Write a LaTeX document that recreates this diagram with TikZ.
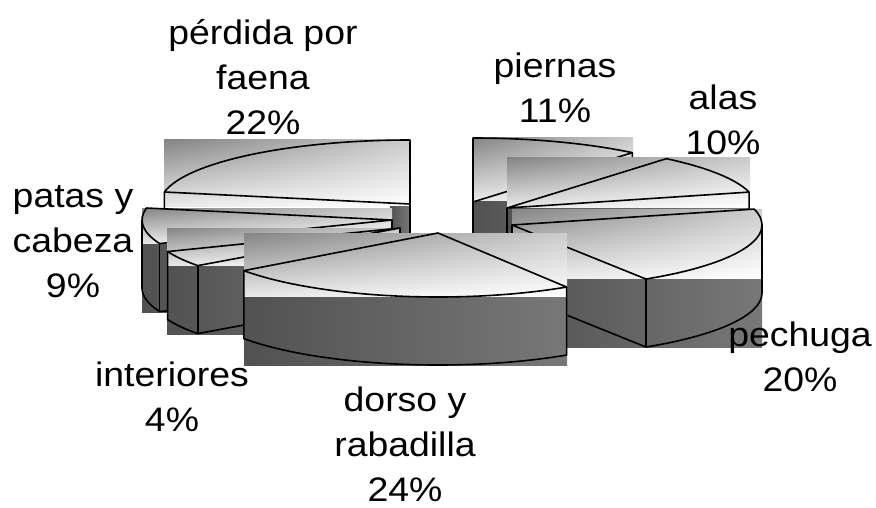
\documentclass[tikz,border=0pt]{standalone}
\usepackage{fontspec}
\setmainfont{Liberation Sans}
\newfontfamily\lblfont{Liberation Sans}[FakeStretch=1.1]
\usetikzlibrary{calc, shadings}

\tikzset{
    topface/.style={upper left=black!48, upper right=black!20, lower left=black!8, lower right=white},
    sideface/.style={left color=black!68, right color=black!53},
    rim/.style={black, line width=1.6pt, line join=round, x radius=250, y radius=64},
    lbl/.style={font=\lblfont\fontsize{34}{45}\selectfont, align=center, anchor=base},
}

\begin{document}
\begin{tikzpicture}[x=1pt, y=-1pt]
            \useasboundingbox (0,0) rectangle (876,508);
            % rim points of each slice: apex + (250 sin t, -64 cos t)
            \coordinate (PfA) at (410,204);
            \coordinate (PfL) at ($(PfA)+({250*sin(280.8)},{-64*cos(280.8)})$);
            \coordinate (PiA) at (473,202);
            \coordinate (PiT) at ($(PiA)+(0,-64)$);
            \coordinate (PiR) at ($(PiA)+({250*sin(39.6)},{-64*cos(39.6)})$);
            \coordinate (AlA) at (507,208);
            \coordinate (AlL) at ($(AlA)+({250*sin(39.6)},{-64*cos(39.6)})$);
            \coordinate (AlR) at ($(AlA)+({250*sin(75.6)},{-64*cos(75.6)})$);
            \coordinate (PeA) at (512,225);
            \coordinate (PeT) at ($(PeA)+({250*sin(75.6)},{-64*cos(75.6)})$);
            \coordinate (PeE) at ($(PeA)+(250,0)$);
            \coordinate (PeR) at ($(PeA)+({250*sin(147.6)},{-64*cos(147.6)})$);
            \coordinate (PcA) at (392,220);
            \coordinate (PcF) at ($(PcA)+({250*sin(248.4)},{-64*cos(248.4)})$);
            \coordinate (PcW) at ($(PcA)+(-250,0)$);
            \coordinate (InA) at (400,228);
            \coordinate (InF) at ($(InA)+({250*sin(234)},{-64*cos(234)})$);
            \coordinate (InB) at ($(InA)+({250*sin(248.4)},{-64*cos(248.4)})$);
            \coordinate (DoA) at (438,233);
            \coordinate (DoR) at ($(DoA)+({240*sin(147.6)},{-64*cos(147.6)})$);
            \coordinate (DoL) at ($(DoA)+({240*sin(234)},{-64*cos(234)})$);

            % perdida por faena
            \shade[topface] (164,140) rectangle (410,206);
            \shade[sideface] (390,206) rectangle (410,272);
            \draw[rim] (PfA) -- (PfL) arc[start angle=190.8, end angle=270] -- cycle;
            \draw[rim] (PfL) -- ++(0,68) -- ($(PfA)+(0,68)$) -- (PfA);
            % piernas
            \shade[topface] (473,138) rectangle (633,202);
            \shade[sideface] (473,202) rectangle (633,270);
            \draw[rim] (PiA) -- (PiT) arc[start angle=-90, end angle=-50.4] -- cycle;
            \draw[rim] (PiA) -- ++(0,68) -- ($(PiR)+(0,68)$) -- (PiR);
            % alas
            \shade[topface] (507,158) rectangle (750,208);
            \shade[sideface] (507,208) rectangle (750,276);
            \draw[rim] (AlA) -- (AlL) arc[start angle=-50.4, end angle=-14.4] -- cycle;
            \draw[rim] (AlA) -- ++(0,68) -- ($(AlR)+(0,68)$) -- (AlR);
            % pechuga
            \shade[topface] (512,209) rectangle (762,279);
            \shade[sideface] (512,279) rectangle (762,347);
            \draw[rim] (PeA) -- (PeT) arc[start angle=-14.4, end angle=57.6] -- cycle;
            \draw[rim] (PeA) -- ++(0,68) -- ($(PeR)+(0,68)$) arc[start angle=57.6, end angle=0] -- (PeE);
            \draw[rim] (PeR) -- ++(0,68);
            % patas y cabeza
            \shade[topface] (142,208) rectangle (392,244);
            \shade[sideface] (142,244) rectangle (392,312);
            \draw[rim] (PcA) -- (PcF) arc[start angle=158.4, end angle=190.8] -- cycle;
            \draw[rim] (PcA) -- ++(0,68) -- ($(PcF)+(0,68)$) arc[start angle=158.4, end angle=180] -- (PcW);
            \draw[rim] (PcF) -- ++(0,68);
            % interiores
            \shade[topface] (167,228) rectangle (400,266);
            \shade[sideface] (167,266) rectangle (400,334);
            \draw[rim] (InA) -- (InF) arc[start angle=144, end angle=158.4] -- cycle;
            \draw[rim] (InA) -- ++(0,68) -- ($(InF)+(0,68)$) arc[start angle=144, end angle=158.4] -- (InB);
            \draw[rim] (InF) -- ++(0,68);
            % dorso y rabadilla
            \shade[topface] (244,233) rectangle (567,297);
            \shade[sideface] (244,297) rectangle (567,365);
            \draw[rim, x radius=240] (DoA) -- (DoR) arc[start angle=57.6, end angle=144] -- cycle;
            \draw[rim, x radius=240] (DoR) -- ++(0,68) arc[start angle=57.6, end angle=144] -- (DoL);

            % labels (anchor base = last line)
            \node[lbl] (lbPf) at (263,135) {pérdida por\\faena\\22\%};
            \node[lbl] (lbPi) at (555,123) {piernas\\11\%};
            \node[lbl] (lbAl) at (723,155) {alas\\10\%};
            \node[lbl] (lbPe) at (800,391) {pechuga\\20\%};
            \node[lbl] (lbDo) at (405,501) {dorso y\\rabadilla\\24\%};
            \node[lbl] (lbIn) at (172,431) {interiores\\4\%};
            \node[lbl] (lbPc) at (73,297) {patas y\\cabeza\\9\%};
        \end{tikzpicture}
\end{document}
